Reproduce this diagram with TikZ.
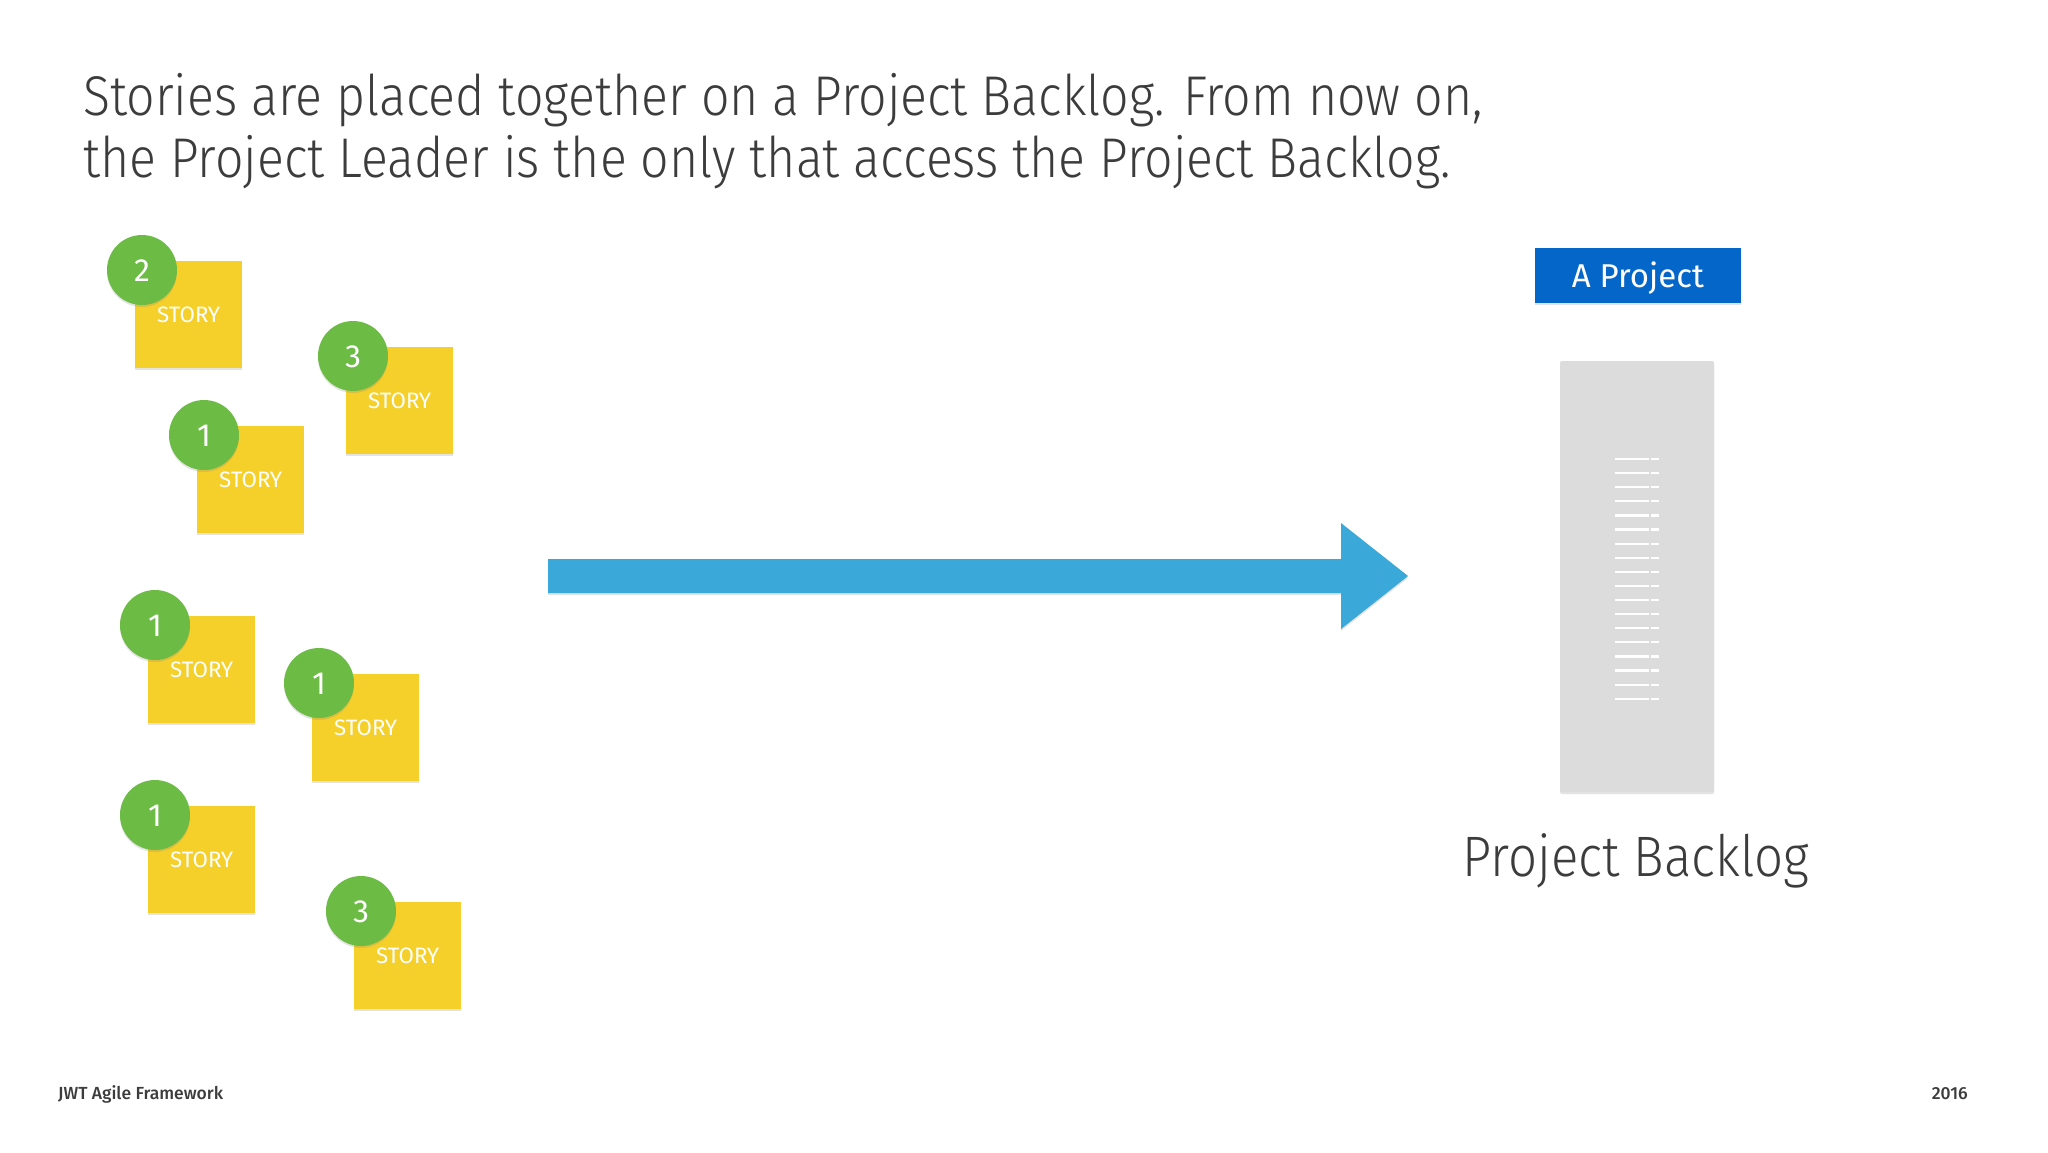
\documentclass[tikz,border=0pt]{standalone}
\usepackage{fontspec}
\usetikzlibrary{shadows}
\setmainfont{Fira Sans}
\newfontfamily\lightfont{Fira Sans Light}[FakeStretch=0.894]
\newfontfamily\footfont{Fira Sans Medium}
\definecolor{titlegray}{HTML}{3C3C3C}
\definecolor{noteyellow}{HTML}{F5D02B}
\definecolor{ballgreen}{HTML}{6BBB44}
\definecolor{arrowblue}{HTML}{3AA8D8}
\definecolor{projblue}{HTML}{0466C8}
\definecolor{backloggray}{HTML}{DCDCDC}
\tikzset{
  softshadow/.style={drop shadow={opacity=0.22, shadow xshift=0pt, shadow yshift=-2pt}},
  note/.style={rectangle, fill=noteyellow, softshadow, minimum width=107pt, minimum height=107pt,
    inner sep=0pt, text=white, font=\fontsize{22.3}{22.3}\selectfont, text height=15pt, text depth=0pt},
  ball/.style={circle, fill=ballgreen, softshadow, minimum size=70pt, inner sep=0pt,
    text=white, font=\fontsize{32}{32}\selectfont, text height=22pt, text depth=0pt},
  titletext/.style={anchor=base west, inner sep=0pt, text=titlegray, font=\lightfont\fontsize{56}{63}\selectfont},
  foottext/.style={inner sep=0pt, text=titlegray, font=\footfont\fontsize{17.5}{17.5}\selectfont}
}
\begin{document}
\begin{tikzpicture}[x=1pt, y=-1pt]
\useasboundingbox (0,0) rectangle (2048,1152);
\fill[white] (0,0) rectangle (2048,1152);
% heading
\node[titletext] (title) at (83,115) {Stories are placed together on a Project Backlog. From now on,};
\node[titletext] (title2) at (83,177) {the Project Leader is the only that access the Project Backlog.};
% stories
\foreach \u/\v/\w/\n in {135/261/2/a, 346/347/3/b, 197/426/1/c, 148/616/1/d, 312/674/1/e, 148/806/1/f, 354/902/3/g} {
  \node[note, anchor=north west] (note\n) at (\u,\v) {STORY};
  \node[ball] (ball\n) at ([shift={(7,9)}]note\n.north west) {\w};
}
% big arrow
\fill[arrowblue, softshadow] (548,559) -- (1341,559) -- (1341,523) -- (1408,576) -- (1341,629) -- (1341,593) -- (548,593) -- cycle;
% project backlog
\node[rectangle, fill=projblue, softshadow, minimum width=206pt, minimum height=55pt, inner sep=0pt,
  text=white, font=\fontsize{33}{33}\selectfont, text height=23pt, text depth=0pt] (proj) at (1638,275.5) {A Project};
\node[rectangle, rounded corners=2pt, fill=backloggray, softshadow, minimum width=154pt, minimum height=431pt, inner sep=0pt] (backlog) at (1637,576.5) {};
\foreach \i in {0,...,17} {
  \draw[white, line width=2.2pt] (1615,{459+14.1*\i}) -- (1649,{459+14.1*\i});
  \draw[white, line width=2.2pt] (1651,{459+14.1*\i}) -- (1659,{459+14.1*\i});
}
\node[anchor=base, inner sep=0pt, text=titlegray, font=\lightfont\fontsize{57}{57}\selectfont] (label) at (1636,876) {Project Backlog};
% footer
\node[foottext, anchor=base west] (foot) at (58,1099) {JWT Agile Framework};
\node[foottext, anchor=base east] (year) at (1968,1099) {2016};
\end{tikzpicture}
\end{document}
